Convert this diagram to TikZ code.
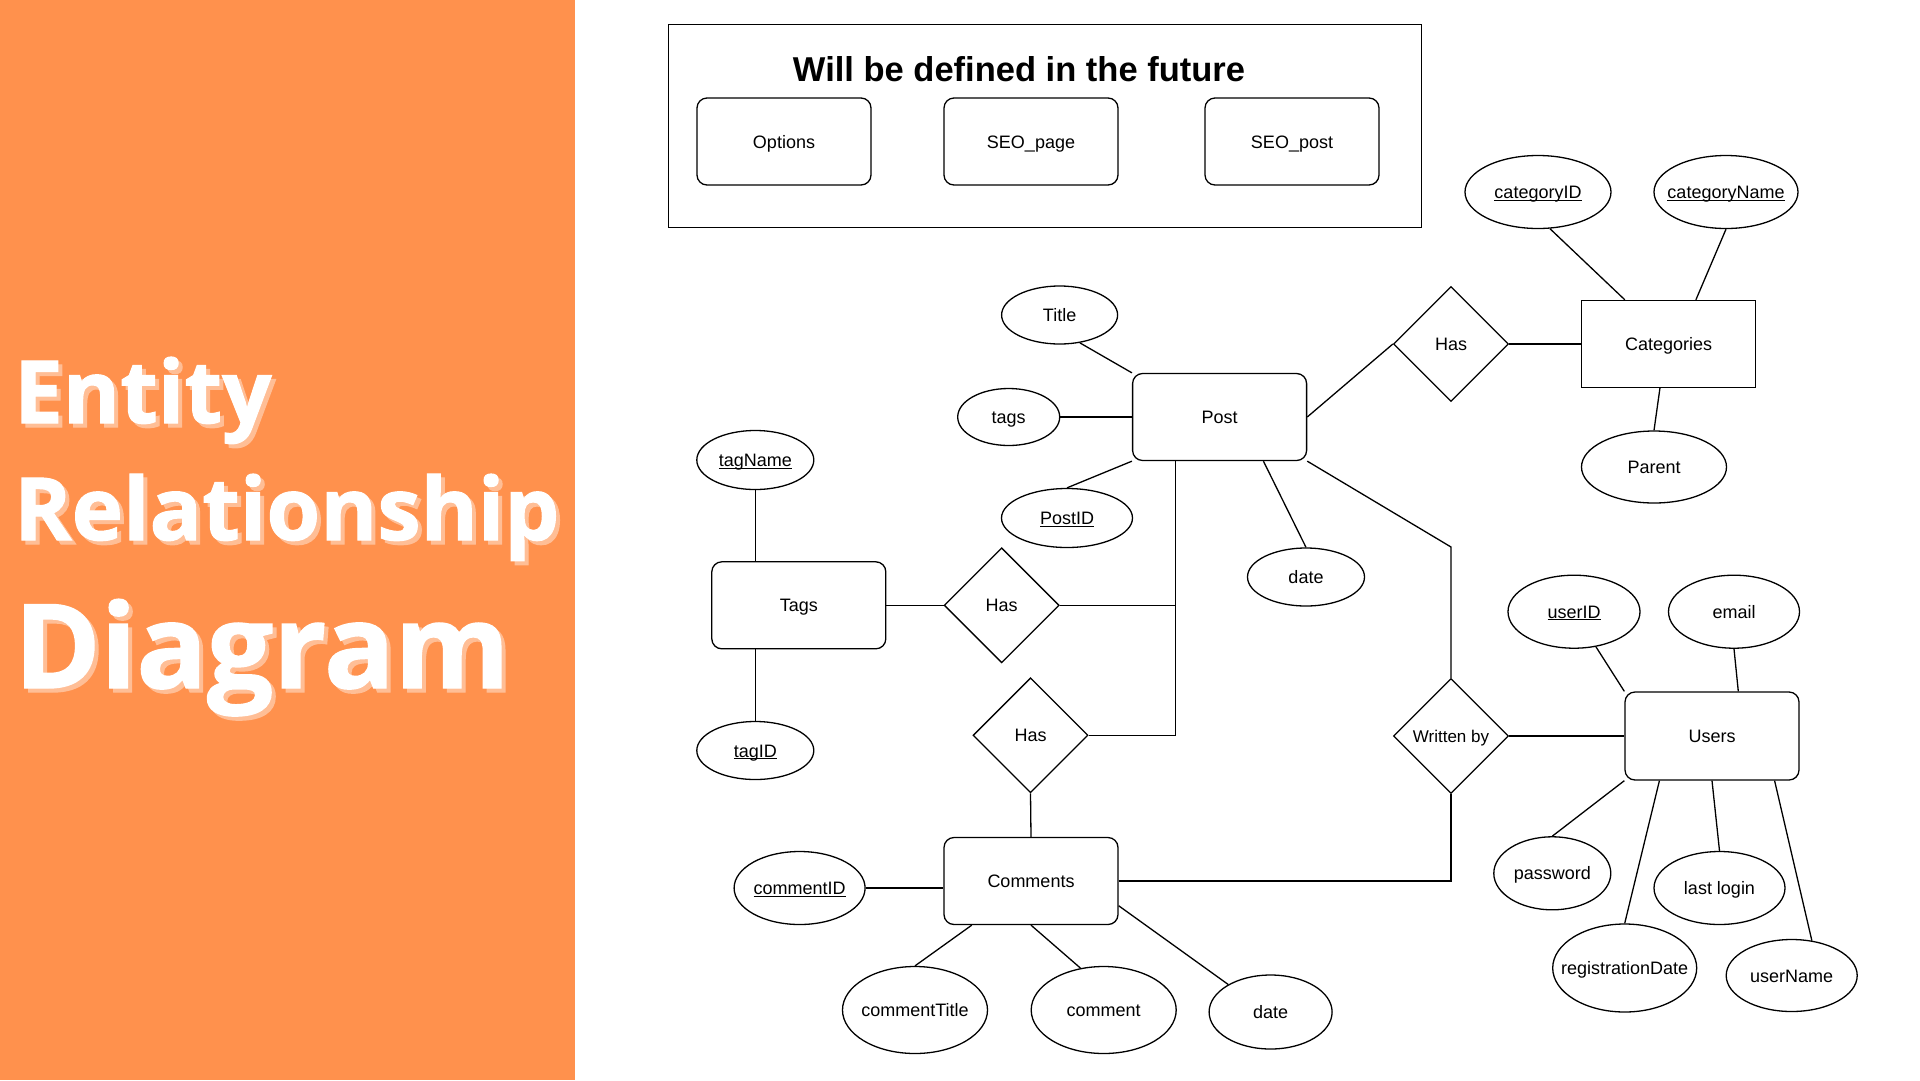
\documentclass[tikz,border=0pt]{standalone}
\usepackage{fontspec}
\setmainfont{Liberation Sans}
\newfontfamily\titlefont[BoldFeatures={FakeBold=1.2}]{Open Sans}
\usetikzlibrary{shapes.geometric,calc}
\definecolor{panel}{HTML}{FF914D}
\definecolor{shadowc}{HTML}{FFBE96}
\newcommand{\ulx}[1]{\setbox0\hbox{#1}\rlap{\rule[-2.2pt]{\wd0}{1.1pt}}\box0}
\begin{document}
\begin{tikzpicture}[x=1pt,y=-1pt,
  lbl/.style={font=\fontsize{18}{20}\selectfont, text=black, text height=13pt, text depth=0pt},
  ent/.style={lbl, draw=black, line width=1.3pt, rectangle, rounded corners=10pt, minimum width=174pt, minimum height=87pt, inner sep=0pt},
  entsq/.style={lbl, draw=black, line width=1.3pt, rectangle, minimum width=174pt, minimum height=87pt, inner sep=0pt},
  attr/.style={lbl, draw=black, line width=1.3pt, ellipse, inner ysep=0pt, inner xsep=-40pt},
  rel/.style={lbl, draw=black, line width=1.3pt, diamond, minimum width=115pt, minimum height=115pt, inner sep=0pt},
  conn/.style={draw=black, line width=1.3pt},
  ttl/.style={anchor=base west, inner sep=0pt, font=\titlefont\bfseries}
]
\useasboundingbox (0,0) rectangle (1920,1080);
\fill[white] (0,0) rectangle (1920,1080);
\fill[panel] (0,0) rectangle (575,1080);

% title with shadow
\node[ttl, text=shadowc, font=\titlefont\bfseries\fontsize{87}{87}\selectfont] (t1s) at (18,427) {Entity};
\node[ttl, text=white, font=\titlefont\bfseries\fontsize{87}{87}\selectfont] (t1) at (14,423) {Entity};
\node[ttl, text=shadowc, font=\titlefont\bfseries\fontsize{87}{87}\selectfont] (t2s) at (18,544) {Relationship};
\node[ttl, text=white, font=\titlefont\bfseries\fontsize{87}{87}\selectfont] (t2) at (14,540) {Relationship};
\node[ttl, text=shadowc, font=\titlefont\bfseries\fontsize{117}{117}\selectfont] (t3s) at (18,692) {Diagram};
\node[ttl, text=white, font=\titlefont\bfseries\fontsize{117}{117}\selectfont] (t3) at (14,688) {Diagram};

% future box
\node[draw=black, line width=1.8pt, rectangle, minimum width=753pt, minimum height=203pt, inner sep=0pt] (future) at (1045,126) {};
\node[font=\bfseries\fontsize{34.5}{36}\selectfont] (futuretitle) at (1019,69) {Will be defined in the future};
\node[ent] (options) at (784,141.5) {Options};
\node[ent] (seopage) at (1031,141.5) {SEO\_page};
\node[ent] (seopost) at (1292,141.5) {SEO\_post};

% entities
\node[ent] (post) at (1219.6,417) {Post};
\node[entsq] (cat) at (1668.7,344) {Categories};
\node[ent] (tags) at (798.8,605.3) {Tags};
\node[ent] (comments) at (1031,881) {Comments};
\node[ent, minimum height=88pt] (users) at (1712,736) {Users};

% relations
\node[rel] (hascat) at (1451,344) {Has};
\node[rel] (hastag) at (1001.7,605.3) {Has};
\node[rel] (hascom) at (1030.5,735.3) {Has};
\node[rel, font=\fontsize{17}{19}\selectfont] (wb) at (1451,736) {Written by};

% attributes
\node[attr, minimum width=116pt, minimum height=58pt] (title) at (1059.6,315) {Title};
\node[attr, minimum width=102pt, minimum height=57pt] (ptags) at (1008.7,417) {tags};
\node[attr, minimum width=131pt, minimum height=59pt] (postid) at (1067,518) {\ulx{PostID}};
\node[attr, minimum width=117pt, minimum height=58pt] (pdate) at (1306,577) {date};
\node[attr, minimum width=146pt, minimum height=73pt] (cid) at (1538,192) {\ulx{categoryID}};
\node[attr, minimum width=144pt, minimum height=73pt] (cname) at (1726,192) {\ulx{categoryName}};
\node[attr, minimum width=145pt, minimum height=72pt] (parent) at (1654,467) {Parent};
\node[attr, minimum width=117pt, minimum height=59pt] (tagname) at (755.3,460) {\ulx{tagName}};
\node[attr, minimum width=117pt, minimum height=58pt] (tagid) at (755.3,750.5) {\ulx{tagID}};
\node[attr, minimum width=131pt, minimum height=73pt] (commentid) at (799.6,888) {\ulx{commentID}};
\node[attr, minimum width=145pt, minimum height=87pt] (ctitle) at (915,1010) {commentTitle};
\node[attr, minimum width=145pt, minimum height=87pt] (comment) at (1103.7,1010) {comment};
\node[attr, minimum width=123pt, minimum height=74pt] (cdate) at (1270.6,1012) {date};
\node[attr, minimum width=132pt, minimum height=73pt] (userid) at (1574,611.7) {\ulx{userID}};
\node[attr, minimum width=131pt, minimum height=73pt] (email) at (1734,611.7) {email};
\node[attr, minimum width=117pt, minimum height=73pt] (password) at (1552.3,873.3) {password};
\node[attr, minimum width=131pt, minimum height=73pt] (lastlogin) at (1719.5,888) {last login};
\node[attr, minimum width=144pt, minimum height=88pt] (regdate) at (1624.7,968) {registrationDate};
\node[attr, minimum width=131pt, minimum height=72pt] (username) at (1791.7,975.5) {userName};

% helper coordinates
\coordinate (junc) at ($(post.south west)!0.25!(post.south east)$);
\coordinate (bend) at (1451,547);

% connectors: post
\draw[conn] (title.-54) -- (post.north west);
\draw[conn] (ptags.east) -- (post.west);
\draw[conn] (postid.north) -- (post.south west);
\draw[conn] ($(post.south west)!0.75!(post.south east)$) -- (pdate.north);
\draw[conn] (post.east) -- (hascat.west);
\draw[conn] (hascat.east) -- (cat.west);
% categories
\draw[conn] (cid.-72) -- ($(cat.north west)!0.25!(cat.north east)$);
\draw[conn] (cname.south) -- ($(cat.north west)!0.655!(cat.north east)$);
\draw[conn] ($(cat.south west)!0.45!(cat.south east)$) -- (parent.north);
% tags
\draw[conn] (tagname.south) -- (tagname.south |- tags.north);
\draw[conn] (tagid.north |- tags.south) -- (tagid.north);
\draw[conn] (tags.east) -- (hastag.west);
\draw[conn] (hastag.east) -- (hastag.east -| junc);
\draw[conn] (junc) |- (hascom.east);
% comments
\draw[conn] (hascom.south) -- (comments.north);
\draw[conn] (commentid.east) -- (commentid.east -| comments.west);
\draw[conn] ($(comments.south west)!0.162!(comments.south east)$) -- (ctitle.north);
\draw[conn] (comments.south) -- (comment.119);
\draw[conn] ($(comments.north east)!0.78!(comments.south east)$) -- (cdate.147);
\draw[conn] (comments.east) -| (wb.south);
% written by / users
\draw[conn] (post.south east) -- (bend) -- (wb.north);
\draw[conn] (wb.east) -- (users.west);
\draw[conn] (userid.-58) -- (users.north west);
\draw[conn] (email.south) -- ($(users.north west)!0.65!(users.north east)$);
\draw[conn] (users.south west) -- (password.north);
\draw[conn] ($(users.south west)!0.2!(users.south east)$) -- (regdate.north);
\draw[conn] (users.south) -- (lastlogin.north);
\draw[conn] ($(users.south west)!0.857!(users.south east)$) -- (username.60);
\end{tikzpicture}
\end{document}
